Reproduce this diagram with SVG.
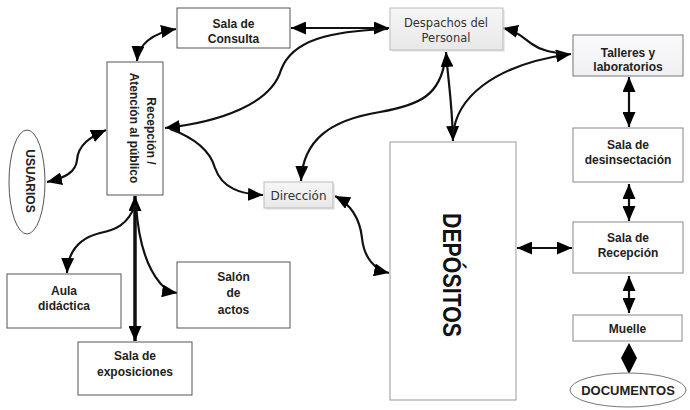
<svg xmlns="http://www.w3.org/2000/svg" width="690" height="410" viewBox="0 0 690 410">
<style>
.box{fill:#fff;stroke:#555;stroke-width:1}
.gbox{fill:url(#g);stroke:#bbb;stroke-width:1}
.t{font-family:"Liberation Sans",Arial,sans-serif;font-weight:bold;font-size:12px;fill:#222;text-anchor:middle}
.r{font-family:"DejaVu Sans",Verdana,sans-serif;font-size:11.5px;fill:#333;text-anchor:middle}
.c{fill:none;stroke:#111;stroke-width:2.2}
</style>
<defs>
<linearGradient id="g" x1="0" y1="0" x2="0" y2="1"><stop offset="0" stop-color="#f6f6f6"/><stop offset="1" stop-color="#e8e8e8"/></linearGradient>
<linearGradient id="g2" x1="0" y1="0" x2="0" y2="1"><stop offset="0" stop-color="#fafafc"/><stop offset="1" stop-color="#f0f0f3"/></linearGradient>
<marker id="ah" viewBox="0 0 15 13" refX="15" refY="6.5" markerWidth="15" markerHeight="13" markerUnits="userSpaceOnUse" orient="auto-start-reverse"><path d="M0,0 L15,6.5 L0,13 z" fill="#000"/></marker>
<marker id="ahL" viewBox="0 0 15 13" refX="15" refY="6.5" markerWidth="15" markerHeight="13" markerUnits="userSpaceOnUse" orient="auto-start-reverse"><path d="M0,0 L15,6.5 L0,13 z" fill="#000"/></marker>
</defs>

<g id="connectors">
<path class="c" d="M137,61 C138,45 152,33 176,29" marker-start="url(#ah)" marker-end="url(#ah)"/>
<path class="c" d="M389,28 L291,28" marker-start="url(#ah)" marker-end="url(#ah)"/>
<path class="c" d="M388,29 C330,31 292,40 281,70 C271,104 220,122 165,128" marker-end="url(#ah)"/>
<path class="c" d="M170,129 C195,138 210,150 215,168 C222,188 240,194 263,195" marker-end="url(#ah)"/>
<path class="c" d="M445,60 C440,95 420,105 380,112 C330,120 303,140 301,181" marker-end="url(#ah)"/>
<path class="c" d="M446,52 C448,80 452,100 453,141" marker-start="url(#ah)" marker-end="url(#ah)"/>
<path class="c" d="M453,135 C456,100 490,65 571,54" marker-end="url(#ah)"/>
<path class="c" d="M503,28 C520,32 525,40 532,44 C540,50 550,52 565,54" marker-start="url(#ah)"/>
<path class="c" d="M629,77 L629,127" marker-start="url(#ahL)" marker-end="url(#ahL)"/>
<path class="c" d="M629,184 L629,221" marker-start="url(#ahL)" marker-end="url(#ahL)"/>
<path class="c" d="M517,248 L572,248" marker-start="url(#ahL)" marker-end="url(#ahL)"/>
<path class="c" d="M629,276 L629,313" marker-start="url(#ahL)" marker-end="url(#ahL)"/>
<polygon points="629,343 637,358 629,374 621,358" fill="#000"/>
<path class="c" d="M335,196 C352,205 360,220 362,238 C364,258 375,270 389,273" marker-start="url(#ah)" marker-end="url(#ah)"/>
<path class="c" d="M106,130 C90,137 78,145 77,160 C76,172 65,178 47,182" marker-start="url(#ah)" marker-end="url(#ah)"/>
<path class="c" style="stroke-width:3.5" d="M135,196 L135,341" marker-start="url(#ahL)" marker-end="url(#ahL)"/>
<path class="c" d="M135,205 C128,225 115,230 100,233 C80,238 68,250 67,273" marker-end="url(#ah)"/>
<path class="c" d="M136,205 C138,235 145,265 160,283 C165,289 170,292 177,293" marker-end="url(#ah)"/>
</g>

<g id="sala-consulta">
<rect class="box" x="177" y="8" width="113" height="40"/>
<text class="t" x="233.5" y="28">Sala de</text>
<text class="t" x="233.5" y="43">Consulta</text>
</g>
<g id="recepcion-publico">
<rect class="box" x="107" y="62" width="56" height="133"/>
<text class="t" transform="translate(146.5,131) rotate(90)">Recepción /</text>
<text class="t" transform="translate(129.5,128) rotate(90)">Atención al público</text>
</g>
<g id="usuarios">
<ellipse cx="27" cy="182" rx="18" ry="52" fill="#fff" stroke="#555" stroke-width="1"/>
<text class="t" transform="translate(26,181) rotate(90)">USUARIOS</text>
</g>
<g id="despachos">
<rect x="392" y="10" width="113" height="42" fill="#ddd" opacity="0.6"/>
<rect class="gbox" x="390" y="8" width="113" height="42"/>
<text class="r" x="446" y="27">Despachos del</text>
<text class="r" x="446" y="42">Personal</text>
</g>
<g id="direccion">
<rect x="266" y="184" width="69" height="26" fill="#ddd" opacity="0.6"/>
<rect class="gbox" x="264" y="182" width="69" height="26"/>
<text class="r" style="font-size:12px" x="298.5" y="199.5">Dirección</text>
</g>
<g id="talleres">
<rect x="573" y="35" width="110" height="41" fill="url(#g2)" stroke="#777" stroke-width="1"/>
<text class="t" x="628" y="57">Talleres y</text>
<text class="t" x="628" y="71">laboratorios</text>
</g>
<g id="desinsectacion">
<rect class="box" x="573" y="128" width="110" height="54" style="stroke:#888"/>
<text class="t" x="628" y="149">Sala de</text>
<text class="t" x="628" y="164">desinsectación</text>
</g>
<g id="sala-recepcion">
<rect class="box" x="573" y="222" width="110" height="51" style="stroke:#888"/>
<text class="t" x="628" y="242">Sala de</text>
<text class="t" x="628" y="257">Recepción</text>
</g>
<g id="muelle">
<rect class="box" x="573" y="315" width="109" height="26" style="stroke:#888"/>
<text class="t" x="627.5" y="333">Muelle</text>
</g>
<g id="documentos">
<ellipse cx="628" cy="390" rx="58" ry="17" fill="#fff" stroke="#777" stroke-width="1"/>
<text class="t" style="font-size:13px" x="628" y="395">DOCUMENTOS</text>
</g>
<g id="depositos">
<rect class="box" x="390" y="142" width="126" height="258" style="stroke:#999"/>
<text class="t" style="font-size:26px;fill:#111" textLength="124" lengthAdjust="spacingAndGlyphs" transform="translate(443,275) rotate(90)">DEPÓSITOS</text>
</g>
<g id="aula">
<rect class="box" x="7" y="274" width="114" height="54"/>
<text class="t" x="64" y="295">Aula</text>
<text class="t" x="64" y="310">didáctica</text>
</g>
<g id="salon">
<rect class="box" x="177" y="262" width="113" height="66"/>
<text class="t" x="233.5" y="281">Salón</text>
<text class="t" x="233.5" y="297">de</text>
<text class="t" x="233.5" y="314">actos</text>
</g>
<g id="exposiciones">
<rect class="box" x="78" y="342" width="114" height="53"/>
<text class="t" x="135" y="360">Sala de</text>
<text class="t" x="135" y="376">exposiciones</text>
</g>
</svg>
